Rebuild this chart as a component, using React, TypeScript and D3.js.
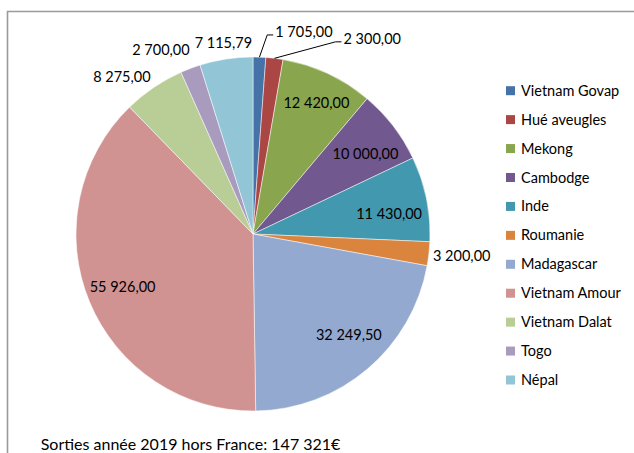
import React, { useRef, useEffect } from 'react';
import * as d3 from 'd3';

const categories = [
  'Vietnam Govap', 'Hué aveugles', 'Mekong', 'Cambodge', 'Inde', 'Roumanie',
  'Madagascar', 'Vietnam Amour', 'Vietnam Dalat', 'Togo', 'Népal',
];
const values = [1705, 2300, 12420, 10000, 11430, 3200, 32249.5, 55926, 8275, 2700, 7115.79];
const colors = [
  '#4572A7', '#AA4643', '#89A54E', '#71588F', '#4198AF', '#DB843D',
  '#93A9CF', '#D19392', '#B9CD96', '#A99BBD', '#92C5D6',
];
const footer = 'Sorties année 2019 hors France: 147 321€';

// label placement (angle shift in degrees, radius as share of pie radius), leader for tiny slices
const labelShift = [12.1, 24.5, 0.9, 2.2, 3.1, -0.3, -3.2, 0.5, -5.8, -5.9, -0.1];
const labelRadius = [1.175, 1.29, 0.821, 0.78, 0.777, 1.186, 0.787, 0.795, 1.155, 1.162, 1.095];
const withLeader = [true, true, false, false, false, false, false, false, false, false, false];

const W = 634;
const H = 453;
const FONT = 'Lato, sans-serif';
const FS = 14.5;

const App = () => {
  const svgRef = useRef<SVGSVGElement>(null);

  useEffect(() => {
    const svg = d3.select(svgRef.current);
    svg.selectAll('*').remove();

    const cx = 253;
    const cy = 234;
    const r = 177;
    const fr = d3.formatLocale({ decimal: ',', thousands: '\u00a0', grouping: [3], currency: ['', '€'] });
    const fmt = fr.format(',.2f');

    // frame
    svg.append('path')
      .attr('d', `M7.5,${H} V11.5 H${W}`)
      .attr('fill', 'none')
      .attr('stroke', '#9a9a9a')
      .attr('stroke-width', 1.6);

    const pie = d3.pie<number>().sort(null).value(d => d);
    const arcs = pie(values);
    const arc = d3.arc<d3.PieArcDatum<number>>().innerRadius(0).outerRadius(r);

    const g = svg.append('g').attr('transform', `translate(${cx},${cy})`);
    g.selectAll('path.slice')
      .data(arcs)
      .join('path')
      .attr('class', 'slice')
      .attr('d', arc)
      .attr('fill', (d, i) => colors[i])
      .attr('stroke', '#fff')
      .attr('stroke-width', 0.5);

    const labels = g.selectAll('text.lbl')
      .data(arcs)
      .join('text')
      .attr('class', 'lbl')
      .attr('font-family', FONT)
      .attr('font-size', FS)
      .attr('fill', '#000')
      .attr('text-anchor', 'middle')
      .attr('dy', '0.35em')
      .attr('x', (d, i) => {
        const a = (d.startAngle + d.endAngle) / 2 + labelShift[i] * Math.PI / 180;
        return Math.sin(a) * r * labelRadius[i];
      })
      .attr('y', (d, i) => {
        const a = (d.startAngle + d.endAngle) / 2 + labelShift[i] * Math.PI / 180;
        return -Math.cos(a) * r * labelRadius[i];
      })
      .text(d => fmt(d.data));

    labels.each(function (d, i) {
      if (!withLeader[i]) return;
      const bb = (this as SVGTextElement).getBBox();
      const a = (d.startAngle + d.endAngle) / 2;
      const sx = Math.sin(a) * r;
      const sy = -Math.cos(a) * r;
      const ly = bb.y + bb.height * 0.5 + 3;
      const p = d3.path();
      p.moveTo(sx, sy);
      p.lineTo(bb.x - 8, ly);
      p.lineTo(bb.x - 2, ly);
      g.append('path')
        .attr('d', p.toString())
        .attr('fill', 'none')
        .attr('stroke', '#000')
        .attr('stroke-width', 1);
    });

    // legend
    const ly = d3.scalePoint<string>().domain(categories).range([90.7, 380]);
    const leg = svg.append('g');
    const items = leg.selectAll('g')
      .data(categories)
      .join('g')
      .attr('transform', d => `translate(506,${ly(d)})`);
    items.append('rect')
      .attr('x', 0)
      .attr('y', -4.5)
      .attr('width', 9)
      .attr('height', 9)
      .attr('fill', (d, i) => colors[i]);
    items.append('text')
      .attr('x', 15)
      .attr('dy', '0.35em')
      .attr('font-family', FONT)
      .attr('font-size', FS)
      .attr('fill', '#000')
      .text(d => d);

    svg.append('text')
      .attr('x', 40.7)
      .attr('y', 450)
      .attr('font-family', FONT)
      .attr('font-size', 16)
      .attr('fill', '#000')
      .text(footer);
  }, []);

  return (
    <svg
      ref={svgRef}
      width={W}
      height={H}
      style={{ position: 'absolute', left: 0, top: 0, background: '#fff' }}
    />
  );
};

export default App;
